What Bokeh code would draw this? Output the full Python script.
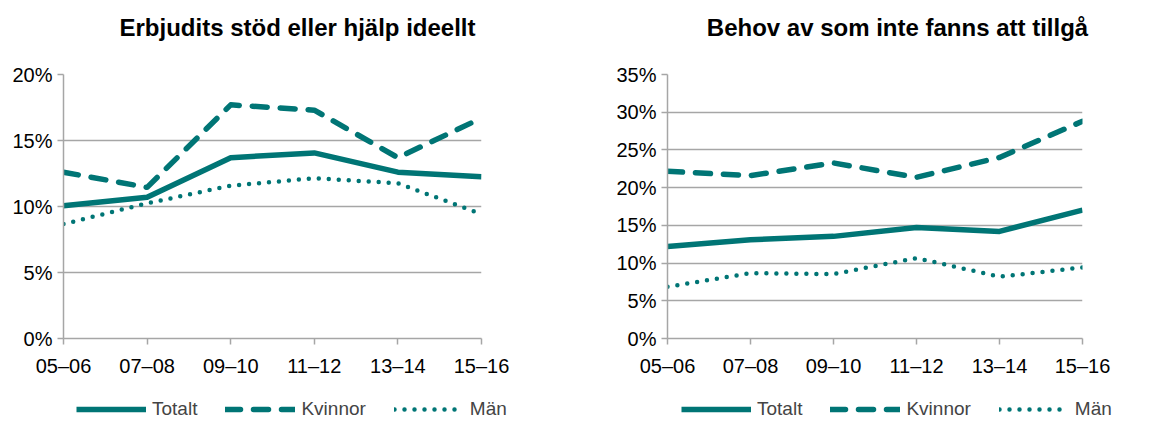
from bokeh.plotting import figure
from bokeh.layouts import row, column
from bokeh.models import (FixedTicker, NumeralTickFormatter, Legend, LegendItem, Range1d, Label)
from bokeh.embed import file_html
from bokeh.resources import INLINE

categories = ["05–06", "07–08", "09–10", "11–12", "13–14", "15–16"]

left_title = "Erbjudits stöd eller hjälp ideellt"
left_totalt = [0.1006, 0.1070, 0.1370, 0.1406, 0.1260, 0.1226]
left_kvinnor = [0.1260, 0.1145, 0.1770, 0.1730, 0.1370, 0.1670]
left_man = [0.0867, 0.1024, 0.1158, 0.1214, 0.1176, 0.0943]

right_title = "Behov av som inte fanns att tillgå"
right_totalt = [0.1220, 0.1310, 0.1354, 0.1473, 0.1420, 0.1703]
right_kvinnor = [0.2217, 0.2160, 0.2327, 0.2137, 0.2400, 0.2880]
right_man = [0.0686, 0.0867, 0.0854, 0.1066, 0.0819, 0.0942]

series_names = ["Totalt", "Kvinnor", "Män"]

TEAL = "#007575"
GRID = "#a6a6a6"
FONT = "Liberation Sans"
TOTAL_W = 1157

STYLES = [dict(line_width=5.5, line_join="round"),
          dict(line_width=5.5, line_dash="15 13", line_cap="round", line_join="round"),
          dict(line_width=4.5, line_dash="0 10", line_cap="round", line_join="round")]


def strip(height, y_range):
    q = figure(width=TOTAL_W, height=height, output_backend="svg", toolbar_location=None,
               x_axis_location=None, y_axis_location=None,
               x_range=Range1d(0, len(categories) - 1), y_range=y_range,
               min_border_left=0, min_border_right=0, min_border_top=0, min_border_bottom=0)
    q.grid.grid_line_color = None
    q.outline_line_color = None
    return q


def make_chart(series, ymax, width, bl, br):
    x = list(range(len(categories)))
    p = figure(width=width, height=346, output_backend="svg", toolbar_location=None,
               x_range=Range1d(0, len(categories) - 1), y_range=Range1d(0, ymax),
               min_border_left=bl, min_border_right=br, min_border_top=24, min_border_bottom=58)
    p.outline_line_color = None
    for vals, st in zip(series, STYLES):
        p.line(x, vals, line_color=TEAL, **st)

    p.xaxis.ticker = FixedTicker(ticks=x)
    p.xaxis.major_label_overrides = {i: c for i, c in enumerate(categories)}
    p.yaxis.ticker = FixedTicker(ticks=[round(i * 0.05, 2) for i in range(int(round(ymax / 0.05)) + 1)])
    p.yaxis.formatter = NumeralTickFormatter(format="0%")
    for ax in (p.xaxis[0], p.yaxis[0]):
        ax.axis_line_color = GRID
        ax.axis_line_width = 1.5
        ax.major_tick_line_color = GRID
        ax.major_tick_line_width = 1.5
        ax.major_tick_out = 6
        ax.major_tick_in = 0
        ax.minor_tick_line_color = None
        ax.major_label_text_font = FONT
        ax.major_label_text_font_size = "20px"
        ax.major_label_text_color = "#000000"
    p.xaxis.major_label_standoff = 10
    p.yaxis.major_label_standoff = 5
    p.xgrid.grid_line_color = None
    p.ygrid.grid_line_color = GRID
    p.ygrid.grid_line_width = 1.5
    return p


left_series = [left_totalt, left_kvinnor, left_man]
right_series = [right_totalt, right_kvinnor, right_man]

# titles strip
top = strip(50, Range1d(0, 1))
for txt, cx in ((left_title, 297), (right_title, 897)):
    top.add_layout(Label(x=cx, y=23, x_units="screen", y_units="screen", text=txt,
                         text_align="center", text_baseline="middle", text_font=FONT,
                         text_font_size="24px", text_font_style="bold", text_color="#000000"))

p1 = make_chart(left_series, 0.20, 580, 63, 99)
p2 = make_chart(right_series, 0.35, 577, 87, 75)

# legend strip: series drawn out of view, only the legend samples show
bottom = strip(24, Range1d(10, 11))
xs = list(range(len(categories)))
for series, lx in ((left_series, 76), (right_series, 681)):
    rs = [bottom.line(xs, vals, line_color=TEAL, **st) for vals, st in zip(series, STYLES)]
    legend = Legend(items=[LegendItem(label=n, renderers=[r]) for n, r in zip(series_names, rs)],
                    orientation="horizontal", location=(lx, 0))
    legend.glyph_width = 70
    legend.glyph_height = 20
    legend.label_standoff = 6
    legend.spacing = 28
    legend.padding = 0
    legend.margin = 0
    legend.label_text_font = FONT
    legend.label_text_font_size = "19px"
    legend.border_line_color = None
    legend.background_fill_alpha = 0
    bottom.add_layout(legend)

layout = column(top, row(p1, p2), bottom)
open("out.html", "w").write(file_html(layout, INLINE))
